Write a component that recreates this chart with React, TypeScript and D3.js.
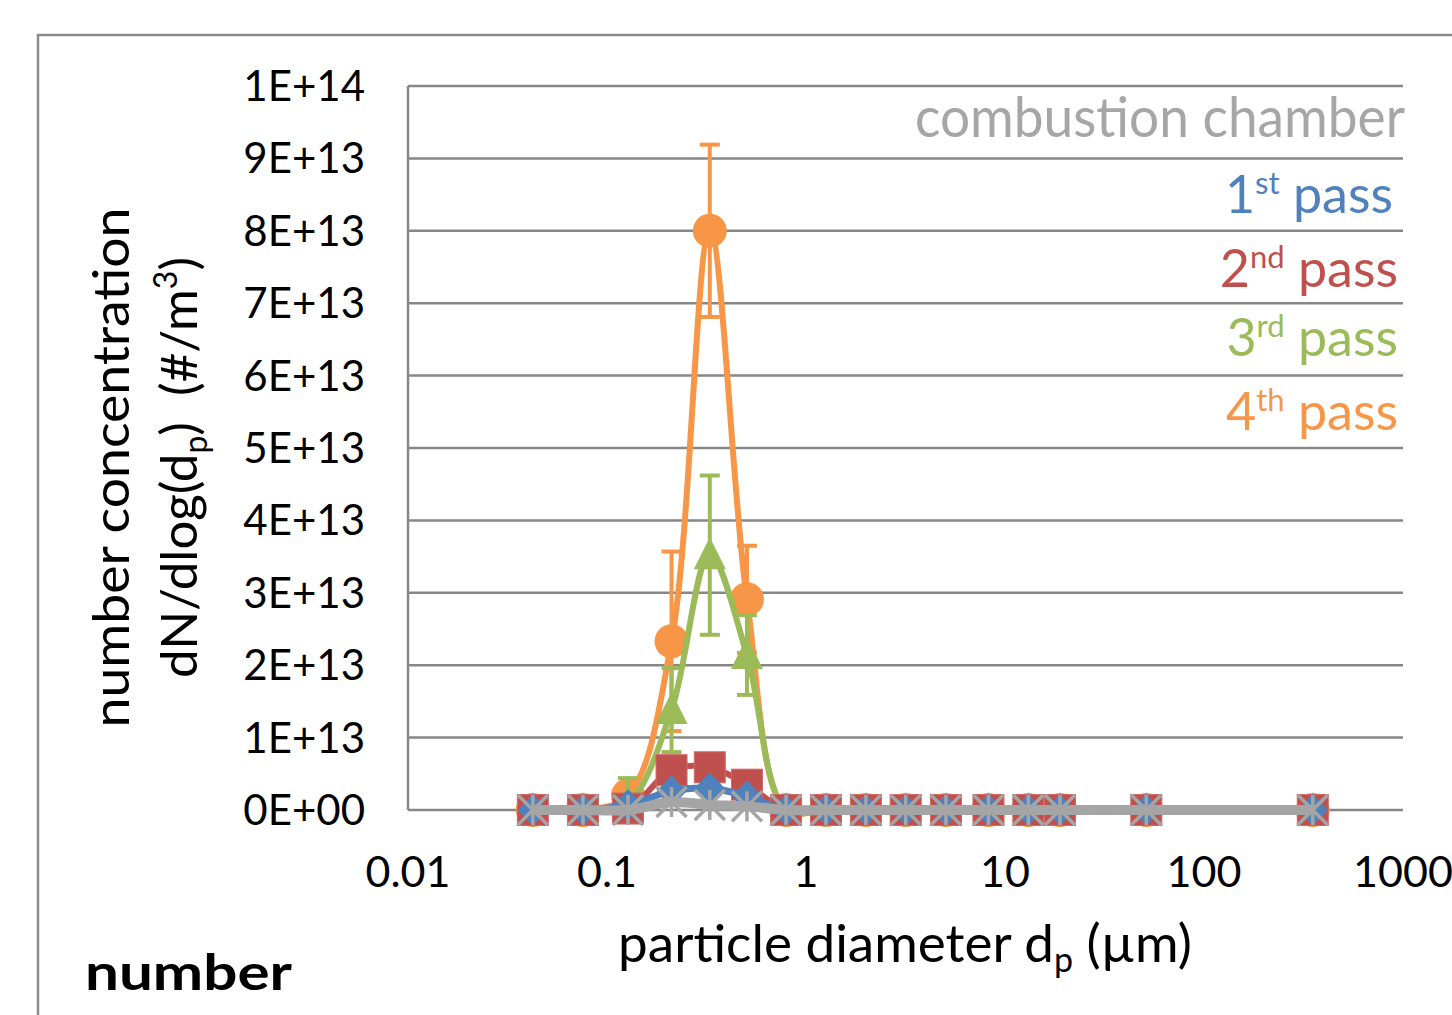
import React from 'react';
import * as d3 from 'd3';

// particle diameter (µm) of each stage
const diameters = [0.0424, 0.0757, 0.1275, 0.211, 0.3285, 0.505, 0.794, 1.26, 2.0, 3.17, 5.05, 8.26, 13.1, 18.9, 51.3, 352];

// number concentration, in units of 1E13 #/m3
const chamber = [0, 0, 0, 0.11, 0.07, 0.05, 0, 0, 0, 0, 0, 0, 0, 0, 0, 0];
const pass1 = [0, 0, 0.07, 0.26, 0.30, 0.19, 0, 0, 0, 0, 0, 0, 0, 0, 0, 0];
const pass2 = [0, 0, 0.02, 0.55, 0.59, 0.35, 0, 0, 0, 0, 0, 0, 0, 0, 0, 0];
const pass3 = [0, 0, 0.10, 1.38, 3.52, 2.14, 0, 0, 0, 0, 0, 0, 0, 0, 0, 0];
const pass4 = [0, 0, 0.20, 2.33, 8.00, 2.91, 0, 0, 0, 0, 0, 0, 0, 0, 0, 0];
const err3 = [0, 0, 0.34, 0.58, 1.10, 0.55, 0, 0, 0, 0, 0, 0, 0, 0, 0, 0];
const err4 = [0, 0, 0, 1.24, 1.19, 0.74, 0, 0, 0, 0, 0, 0, 0, 0, 0, 0];

const yTicks = ['0E+00', '1E+13', '2E+13', '3E+13', '4E+13', '5E+13', '6E+13', '7E+13', '8E+13', '9E+13', '1E+14'];
const xTicks = [0.01, 0.1, 1, 10, 100, 1000];

const blue = '#4f81bd';
const red = '#c0504d';
const green = '#9bbb59';
const orange = '#f79646';
const gray = '#a5a5a5';
const gridColor = '#878787';
const font = 'Lato, "Open Sans", sans-serif';

const x = d3.scaleLog().domain([0.01, 1000]).range([408, 1403]);
const y = d3.scaleLinear().domain([0, 10]).range([810, 86]);

const line = d3.line<number>()
  .x((d, i) => x(diameters[i]))
  .y(d => y(d))
  .curve(d3.curveCatmullRom.alpha(0.5));

function ErrorBars({ vals, errs, color }) {
  return (
    <g stroke={color} strokeWidth={4}>
      {vals.map((v, i) => {
        if (!errs[i]) return null;
        const cx = x(diameters[i]);
        const top = y(v + errs[i]);
        const bot = y(Math.max(0, v - errs[i]));
        return (
          <g key={i}>
            <line x1={cx} x2={cx} y1={top} y2={bot} />
            <line x1={cx - 10} x2={cx + 10} y1={top} y2={top} />
            <line x1={cx - 10} x2={cx + 10} y1={bot} y2={bot} />
          </g>
        );
      })}
    </g>
  );
}

function Marker({ kind, cx, cy, color }) {
  if (kind === 'circle') return <ellipse cx={cx} cy={cy} rx={17} ry={17} fill={color} />;
  if (kind === 'triangle') {
    return <path d={`M${cx},${cy - 18}L${cx + 16},${cy + 14}L${cx - 16},${cy + 14}Z`} fill={color} />;
  }
  if (kind === 'square') return <rect x={cx - 15.5} y={cy - 15.5} width={31} height={31} fill={color} stroke="#d06a67" strokeWidth={1} />;
  if (kind === 'diamond') return <path d={`M${cx},${cy - 16}L${cx + 15},${cy}L${cx},${cy + 16}L${cx - 15},${cy}Z`} fill={color} />;
  // star: X plus vertical bar
  const r = 15;
  return (
    <g stroke={color} strokeWidth={3.5}>
      <line x1={cx} x2={cx} y1={cy - r} y2={cy + r} />
      <line x1={cx - r} x2={cx + r} y1={cy - r} y2={cy + r} />
      <line x1={cx - r} x2={cx + r} y1={cy + r} y2={cy - r} />
    </g>
  );
}

const series = [
  { vals: pass4, color: orange, width: 6, marker: 'circle', errs: err4 },
  { vals: pass3, color: green, width: 6, marker: 'triangle', errs: err3 },
  { vals: pass2, color: red, width: 6, marker: 'square', errs: null },
  { vals: pass1, color: blue, width: 7, marker: 'diamond', errs: null },
  { vals: chamber, color: gray, width: 10, marker: 'star', errs: null },
];

const legend = [
  { n: '1', sup: 'st', color: blue, x: 1393, y: 213 },
  { n: '2', sup: 'nd', color: red, x: 1398, y: 287 },
  { n: '3', sup: 'rd', color: green, x: 1398, y: 356 },
  { n: '4', sup: 'th', color: orange, x: 1398, y: 430 },
];

export default function App() {
  const gridVals = d3.range(1, 11);
  return (
    <svg width={1452} height={1015} viewBox="0 0 1452 1015"
      style={{ position: 'absolute', left: 0, top: 0, display: 'block', fontFamily: font }}>
      <rect x={0} y={0} width={1452} height={1015} fill="#fff" />
      <rect x={38} y={35} width={1500} height={1100} fill="none" stroke="#8c8c8c" strokeWidth={2.5} />

      {gridVals.map(v => (
        <line key={v} x1={408} x2={1403} y1={y(v)} y2={y(v)} stroke={gridColor} strokeWidth={2.5} />
      ))}
      <line x1={408} x2={408} y1={86} y2={810} stroke={gridColor} strokeWidth={2.5} />
      <line x1={408} x2={1403} y1={810} y2={810} stroke={gridColor} strokeWidth={2.5} />

      {yTicks.map((t, i) => (
        <text key={t} x={365} y={y(i) + 15} textAnchor="end" fontSize={42} fill="#000">{t}</text>
      ))}
      {xTicks.map(t => (
        <text key={t} x={x(t)} y={887} textAnchor="middle" fontSize={43} fill="#000">{String(t)}</text>
      ))}

      {series.map((s, k) => (
        <g key={k}>
          <path d={line(s.vals)} fill="none" stroke={s.color} strokeWidth={s.width} strokeLinejoin="round" />
          {s.errs && <ErrorBars vals={s.vals} errs={s.errs} color={s.color} />}
          {s.vals.map((v, i) => (
            <Marker key={i} kind={s.marker} cx={x(diameters[i])} cy={y(v)} color={s.color} />
          ))}
        </g>
      ))}

      <text x={1405} y={137} textAnchor="end" fontSize={57} fill="#a6a6a6" textLength={490} lengthAdjust="spacingAndGlyphs">combustion chamber</text>
      {legend.map(l => (
        <text key={l.n} x={l.x} y={l.y} textAnchor="end" fontSize={52} fill={l.color}>
          {l.n}
          <tspan fontSize={31} dy={-19}>{l.sup}</tspan>
          <tspan dy={19}>{' pass'}</tspan>
        </text>
      ))}

      <g transform="translate(129,467.5) rotate(-90)">
        <text x={0} y={0} textAnchor="middle" fontSize={50} fill="#000" textLength={520} lengthAdjust="spacingAndGlyphs">number concentration</text>
      </g>
      <g transform="translate(197,467.5) rotate(-90)">
        <text x={0} y={0} textAnchor="middle" fontSize={51} fill="#000">
          dN/dlog(d<tspan fontSize={32} dy={10}>p</tspan><tspan dy={-10}>{')\u00a0\u00a0(#/m'}</tspan><tspan fontSize={32} dy={-20}>3</tspan><tspan dy={20}>)</tspan>
        </text>
      </g>

      <text x={905} y={962} textAnchor="middle" fontSize={53} fill="#000">
        particle diameter d<tspan fontSize={34} dy={10}>p</tspan><tspan dy={-10}> (µm)</tspan>
      </text>

      <text x={85} y={990} fontSize={50} fontWeight="bold" fill="#000" textLength={207} lengthAdjust="spacingAndGlyphs">number</text>
    </svg>
  );
}
